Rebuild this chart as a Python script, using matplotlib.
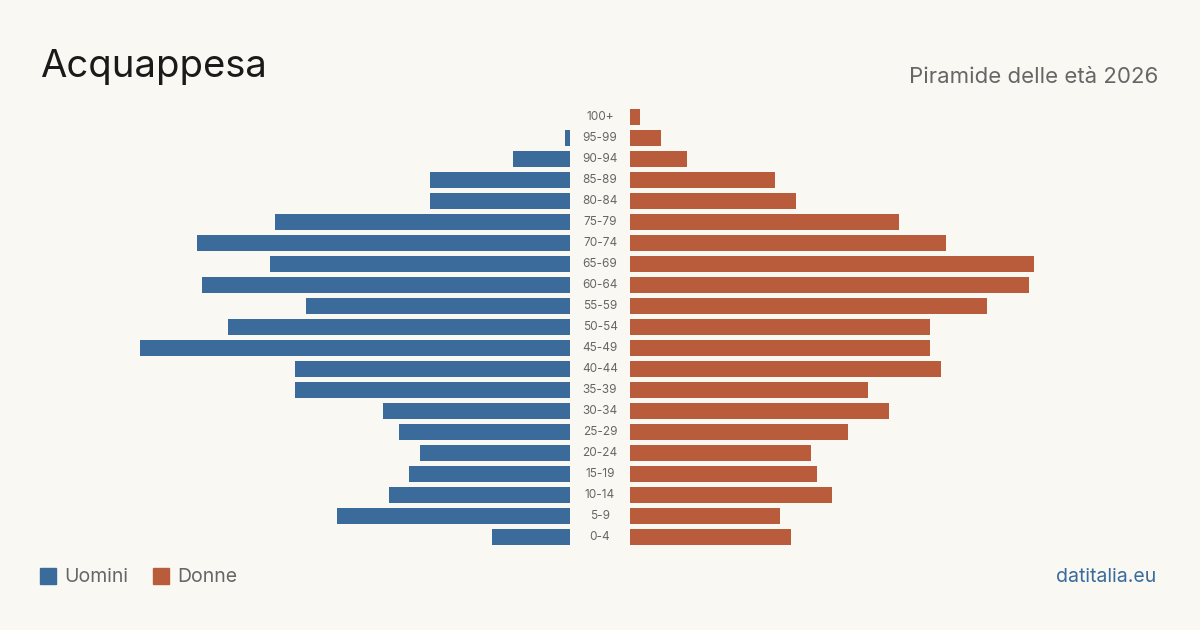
import matplotlib.pyplot as plt

plt.rcParams['font.family'] = ['Inter', 'DejaVu Sans']

age_groups = ["0-4", "5-9", "10-14", "15-19", "20-24", "25-29", "30-34", "35-39",
              "40-44", "45-49", "50-54", "55-59", "60-64", "65-69", "70-74", "75-79",
              "80-84", "85-89", "90-94", "95-99", "100+"]
men = [15, 45, 35, 31, 29, 33, 36, 53, 53, 83, 66, 51, 71, 58, 72, 57, 27, 27, 11, 1, 0]
women = [31, 29, 39, 36, 35, 42, 50, 46, 60, 58, 58, 69, 77, 78, 61, 52, 32, 28, 11, 6, 2]

bg = "#f9f8f3"
blue = "#3b6b9b"
red = "#b95c3c"
W, H = 1200, 630

fig = plt.figure(figsize=(12, 6.3), dpi=100)
fig.patch.set_facecolor(bg)

xmax = max(max(men), max(women))
bottom = (H - 547.5) / H
height = 441 / H
ax_l = fig.add_axes([140 / W, bottom, 430 / W, height])
ax_r = fig.add_axes([630 / W, bottom, 430 / W, height])

ypos = list(range(len(age_groups)))
ax_l.barh(ypos, men, height=0.8, color=blue)
ax_r.barh(ypos, women, height=0.8, color=red)

for ax in (ax_l, ax_r):
    ax.set_ylim(-0.5, len(age_groups) - 0.5)
    ax.set_facecolor("none")
    ax.axis("off")
ax_l.set_xlim(xmax, 0)
ax_r.set_xlim(0, xmax)

# age labels in the gap
for i, lab in enumerate(age_groups):
    ax_r.text(-30 / 430 * xmax, i, lab, ha="center", va="center",
              fontsize=8.5, color="#666666", clip_on=False)

fig.text(40 / W, 1 - 67 / H, "Acquappesa", fontsize=27.5, color="#1a1a1a",
         ha="left", va="center")
fig.text(1158 / W, 1 - 77 / H, "Piramide delle età 2026", fontsize=16,
         color="#666666", ha="right", va="center")

# legend
fig.patches.append(plt.Rectangle((40 / W, 1 - 584 / H), 16 / W, 16 / H,
                                 transform=fig.transFigure, color=blue))
fig.text(64 / W, 1 - 577 / H, "Uomini", fontsize=14, color="#666666",
         ha="left", va="center")
fig.patches.append(plt.Rectangle((153 / W, 1 - 584 / H), 16 / W, 16 / H,
                                 transform=fig.transFigure, color=red))
fig.text(177 / W, 1 - 577 / H, "Donne", fontsize=14, color="#666666",
         ha="left", va="center")
fig.text(1156 / W, 1 - 577 / H, "datitalia.eu", fontsize=14, color=blue,
         ha="right", va="center")

fig.savefig("out.png", dpi=100, facecolor=bg)
